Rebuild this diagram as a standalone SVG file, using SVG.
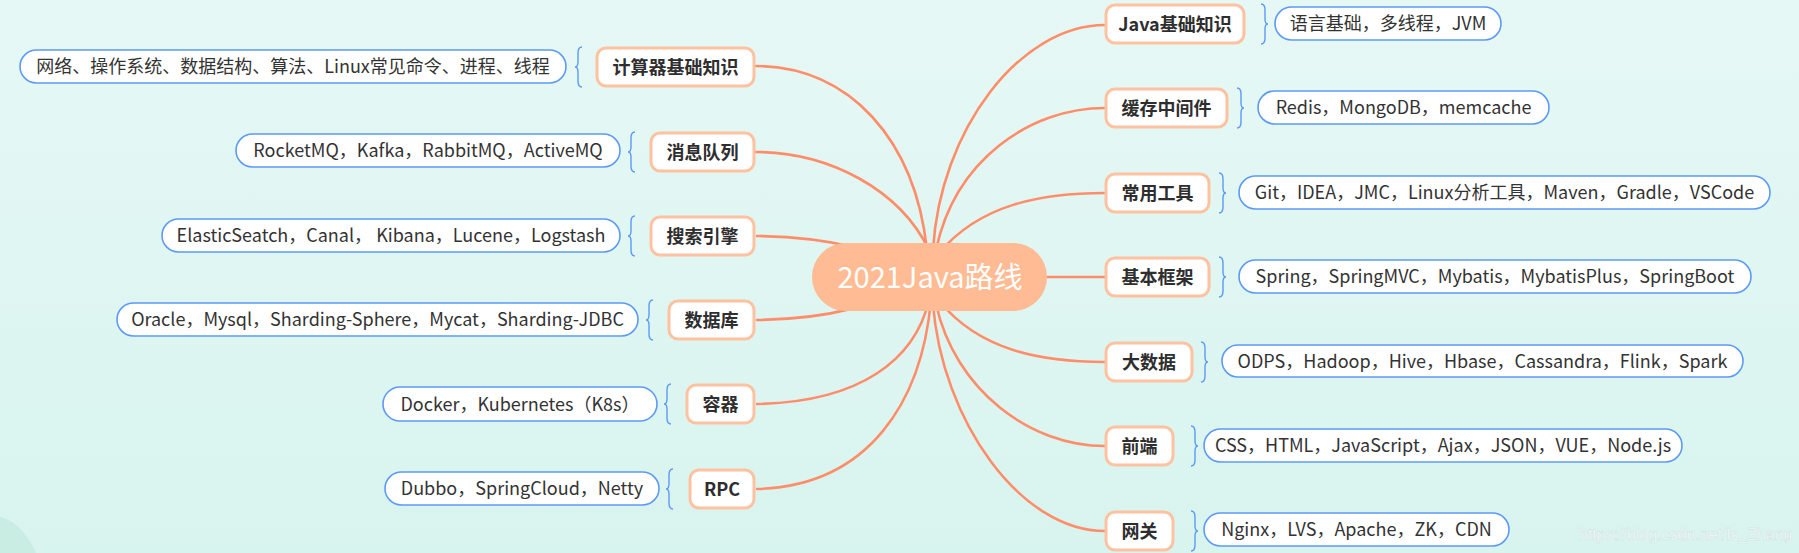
<svg xmlns="http://www.w3.org/2000/svg" width="1799" height="553" viewBox="0 0 1799 553">
<defs>
<linearGradient id="bg" x1="0" y1="0" x2="0" y2="1">
<stop offset="0" stop-color="#E6F8F5"/>
<stop offset="1" stop-color="#D8F4EE"/>
</linearGradient>
<style>
.conn{fill:none;stroke:#FF8D69;stroke-width:2.6;stroke-linecap:round}
.cat rect{fill:#FFFFFF;stroke:#FFC2A0;stroke-width:3}
.cat text{font-family:"Noto Sans CJK SC","Noto Sans",sans-serif;font-size:18px;font-weight:bold;fill:#2E2E2E;text-anchor:middle}
.pill rect{fill:#FFFFFF;stroke:#5C9AF5;stroke-width:1.6}
.pill text{font-family:"Noto Sans CJK SC","Noto Sans",sans-serif;font-size:18px;fill:#333333;text-anchor:middle}
.brace{fill:none;stroke:#5C9AF5;stroke-width:1.4}
.root rect{fill:#FFBB93}
.root text{font-family:"Noto Sans CJK SC","Noto Sans",sans-serif;font-size:29px;fill:#FFFFFF;text-anchor:middle}
.wm{font-family:"Liberation Sans",Arial,sans-serif;font-size:16px;fill:#FFFFFF;fill-opacity:0.9;stroke:#C9DCD8;stroke-width:0.4}
</style>
</defs>
<rect x="0" y="0" width="1799" height="553" fill="url(#bg)"/>
<path d="M0,517 C15,520 28,535 36,553 L0,553 Z" fill="#C9EDE3"/>

<g id="connectors">
<path class="conn" d="M755,66 C850,66 915,140 927,250"/>
<path class="conn" d="M755,152 C830,152 900,190 929,250"/>
<path class="conn" d="M757,236 C830,237 880,250 930,277"/>
<path class="conn" d="M757,320 C830,319 880,305 930,277"/>
<path class="conn" d="M757,404 C860,402 915,360 929,300"/>
<path class="conn" d="M757,489 C870,486 922,400 931,300"/>
<path class="conn" d="M933,250 C940,130 1020,25 1105,25"/>
<path class="conn" d="M936,250 C955,160 1030,108 1105,108"/>
<path class="conn" d="M940,252 C980,205 1040,193 1105,193"/>
<path class="conn" d="M1040,277 L1105,277"/>
<path class="conn" d="M940,302 C980,350 1040,362 1105,362"/>
<path class="conn" d="M936,304 C955,390 1030,446 1105,446"/>
<path class="conn" d="M933,304 C942,420 1020,531 1105,531"/>
</g>

<g id="root" class="root">
<rect x="812" y="243" width="235" height="68" rx="34"/>
<text x="930" y="288">2021Java路线</text>
</g>

<!-- left side -->
<g id="n-jisuanji" class="cat">
<rect x="597" y="48" width="157" height="38" rx="9"/>
<text x="675.5" y="73.5">计算器基础知识</text>
</g>
<g id="d-jisuanji" class="pill">
<path class="brace" d="M582,47 Q578,47 578,53 L578,62 Q578,67 575,67 Q578,67 578,72 L578,81 Q578,87 582,87"/>
<rect x="20" y="50" width="546" height="33" rx="16.5"/>
<text x="293" y="73">网络、操作系统、数据结构、算法、Linux常见命令、进程、线程</text>
</g>

<g id="n-xiaoxi" class="cat">
<rect x="651" y="133" width="103" height="38" rx="9"/>
<text x="702.5" y="158.5">消息队列</text>
</g>
<g id="d-xiaoxi" class="pill">
<path class="brace" d="M635,132 Q631,132 631,138 L631,147 Q631,152 628,152 Q631,152 631,157 L631,166 Q631,172 635,172"/>
<rect x="236" y="134" width="384" height="33" rx="16.5"/>
<text x="428" y="157">RocketMQ，Kafka，RabbitMQ，ActiveMQ</text>
</g>

<g id="n-sousuo" class="cat">
<rect x="651" y="217" width="103" height="38" rx="9"/>
<text x="702.5" y="242.5">搜索引擎</text>
</g>
<g id="d-sousuo" class="pill">
<path class="brace" d="M635,216 Q631,216 631,222 L631,231 Q631,236 628,236 Q631,236 631,241 L631,250 Q631,256 635,256"/>
<rect x="162" y="219" width="458" height="33" rx="16.5"/>
<text x="391" y="242">ElasticSeatch，Canal， Kibana，Lucene，Logstash</text>
</g>

<g id="n-shujuku" class="cat">
<rect x="669" y="301" width="85" height="38" rx="9"/>
<text x="711.5" y="326.5">数据库</text>
</g>
<g id="d-shujuku" class="pill">
<path class="brace" d="M653,300 Q649,300 649,306 L649,315 Q649,320 646,320 Q649,320 649,325 L649,334 Q649,340 653,340"/>
<rect x="117" y="303" width="521" height="33" rx="16.5"/>
<text x="377.5" y="326">Oracle，Mysql，Sharding-Sphere，Mycat，Sharding-JDBC</text>
</g>

<g id="n-rongqi" class="cat">
<rect x="687" y="385" width="67" height="38" rx="9"/>
<text x="720.5" y="410.5">容器</text>
</g>
<g id="d-rongqi" class="pill">
<path class="brace" d="M671,384 Q667,384 667,390 L667,399 Q667,404 664,404 Q667,404 667,409 L667,418 Q667,424 671,424"/>
<rect x="383" y="387" width="274" height="34" rx="17"/>
<text x="520" y="410.5">Docker，Kubernetes（K8s）</text>
</g>

<g id="n-rpc" class="cat">
<rect x="690" y="470" width="64" height="38" rx="9"/>
<text x="722" y="495.5">RPC</text>
</g>
<g id="d-rpc" class="pill">
<path class="brace" d="M673,469 Q669,469 669,475 L669,484 Q669,489 666,489 Q669,489 669,494 L669,503 Q669,509 673,509"/>
<rect x="385" y="472" width="274" height="33" rx="16.5"/>
<text x="522" y="495">Dubbo，SpringCloud，Netty</text>
</g>

<!-- right side -->
<g id="n-java" class="cat">
<rect x="1106" y="5" width="138" height="38" rx="9"/>
<text x="1175" y="30.5">Java基础知识</text>
</g>
<g id="d-java" class="pill">
<path class="brace" d="M1261,4 Q1265,4 1265,10 L1265,19 Q1265,24 1268,24 Q1265,24 1265,29 L1265,38 Q1265,44 1261,44"/>
<rect x="1275" y="7" width="226" height="33" rx="16.5"/>
<text x="1388" y="30">语言基础，多线程，JVM</text>
</g>

<g id="n-huancun" class="cat">
<rect x="1106" y="89" width="121" height="38" rx="9"/>
<text x="1166.5" y="114.5">缓存中间件</text>
</g>
<g id="d-huancun" class="pill">
<path class="brace" d="M1237,88 Q1241,88 1241,94 L1241,103 Q1241,108 1244,108 Q1241,108 1241,113 L1241,122 Q1241,128 1237,128"/>
<rect x="1258" y="91" width="291" height="33" rx="16.5"/>
<text x="1403.5" y="114">Redis，MongoDB，memcache</text>
</g>

<g id="n-gongju" class="cat">
<rect x="1106" y="174" width="103" height="38" rx="9"/>
<text x="1157.5" y="199.5">常用工具</text>
</g>
<g id="d-gongju" class="pill">
<path class="brace" d="M1219,173 Q1223,173 1223,179 L1223,188 Q1223,193 1226,193 Q1223,193 1223,198 L1223,207 Q1223,213 1219,213"/>
<rect x="1239" y="176" width="531" height="33" rx="16.5"/>
<text x="1504.5" y="199">Git，IDEA，JMC，Linux分析工具，Maven，Gradle，VSCode</text>
</g>

<g id="n-kuangjia" class="cat">
<rect x="1106" y="258" width="103" height="38" rx="9"/>
<text x="1157.5" y="283.5">基本框架</text>
</g>
<g id="d-kuangjia" class="pill">
<path class="brace" d="M1219,257 Q1223,257 1223,263 L1223,272 Q1223,277 1226,277 Q1223,277 1223,282 L1223,291 Q1223,297 1219,297"/>
<rect x="1239" y="260" width="512" height="33" rx="16.5"/>
<text x="1495" y="283">Spring，SpringMVC，Mybatis，MybatisPlus，SpringBoot</text>
</g>

<g id="n-dashuju" class="cat">
<rect x="1106" y="343" width="86" height="38" rx="9"/>
<text x="1149" y="368.5">大数据</text>
</g>
<g id="d-dashuju" class="pill">
<path class="brace" d="M1201,342 Q1205,342 1205,348 L1205,357 Q1205,362 1208,362 Q1205,362 1205,367 L1205,376 Q1205,382 1201,382"/>
<rect x="1222" y="345" width="521" height="32" rx="16"/>
<text x="1482.5" y="367.5">ODPS，Hadoop，Hive，Hbase，Cassandra，Flink，Spark</text>
</g>

<g id="n-qianduan" class="cat">
<rect x="1106" y="427" width="67" height="38" rx="9"/>
<text x="1139.5" y="452.5">前端</text>
</g>
<g id="d-qianduan" class="pill">
<path class="brace" d="M1191,426 Q1195,426 1195,432 L1195,441 Q1195,446 1198,446 Q1195,446 1195,451 L1195,460 Q1195,466 1191,466"/>
<rect x="1204" y="429" width="478" height="33" rx="16.5"/>
<text x="1443" y="452">CSS，HTML，JavaScript，Ajax，JSON，VUE，Node.js</text>
</g>

<g id="n-wangguan" class="cat">
<rect x="1106" y="512" width="67" height="38" rx="9"/>
<text x="1139.5" y="537.5">网关</text>
</g>
<g id="d-wangguan" class="pill">
<path class="brace" d="M1191,511 Q1195,511 1195,517 L1195,526 Q1195,531 1198,531 Q1195,531 1195,536 L1195,545 Q1195,551 1191,551"/>
<rect x="1204" y="513" width="305" height="33" rx="16.5"/>
<text x="1356.5" y="536">Nginx，LVS，Apache，ZK，CDN</text>
</g>

<text class="wm" x="1579" y="540">https://blog.csdn.net/ls_Zhang</text>
</svg>
